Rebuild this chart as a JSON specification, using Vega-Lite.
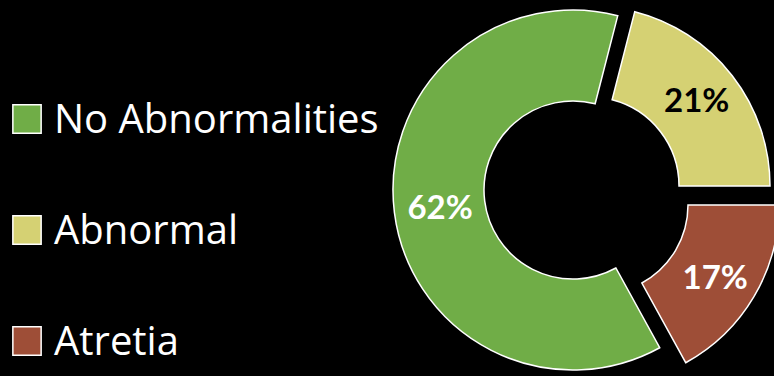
{
  "$schema": "https://vega.github.io/schema/vega-lite/v6.json",
  "autosize": "none",
  "width": 360,
  "height": 360,
  "padding": {"left": 393, "top": 10, "right": 21, "bottom": 6},
  "background": "#000000",
  "config": {"view": {"stroke": null}, "font": "Lato"},
  "data": {"values": [
    {"category": "Abnormal", "value": 21, "label": "21%"},
    {"category": "Atretia", "value": 17, "label": "17%"},
    {"category": "No Abnormalities", "value": 62, "label": "62%"}
  ]},
  "transform": [
    {"stack": "value", "groupby": [], "sort": [{"field": "category", "order": "ascending"}], "as": ["v0", "v1"]},
    {"calculate": "(datum.v0 + datum.v1) / 2", "as": "vmid"}
  ],
  "encoding": {
    "color": {
      "field": "category", "type": "nominal",
      "scale": {"domain": ["No Abnormalities", "Abnormal", "Atretia"], "range": ["#70AD47", "#D5D173", "#9E4E37"]},
      "legend": {
        "orient": "none", "legendX": -386, "legendY": 89, "title": null,
        "symbolType": "square", "symbolSize": 800, "symbolStrokeColor": "white", "symbolStrokeWidth": 1.5, "symbolOpacity": 1,
        "labelColor": "white", "labelFontSize": 40, "labelFont": "Open Sans", "rowPadding": 69, "labelOffset": 7, "labelLimit": 600,
        "encode": {"labels": {"update": {"dy": {"value": 2}}}}
      }
    }
  },
  "layer": [
    {
      "transform": [{"filter": "datum.category === 'No Abnormalities'"}],
      "mark": {"type": "arc", "radius": 180, "radius2": 89, "stroke": "white", "strokeWidth": 1.5},
      "encoding": {
        "theta": {"field": "v0", "type": "quantitative", "stack": null, "scale": {"domain": [0, 100], "range": [0.2513, 6.5345]}},
        "theta2": {"field": "v1"}
      }
    },
    {
      "transform": [{"filter": "datum.category === 'Abnormal'"}],
      "mark": {"type": "arc", "radius": 180, "radius2": 89, "stroke": "white", "strokeWidth": 1.5, "xOffset": 17, "yOffset": -4},
      "encoding": {
        "theta": {"field": "v0", "type": "quantitative", "stack": null, "scale": {"domain": [0, 100], "range": [0.2513, 6.5345]}},
        "theta2": {"field": "v1"}
      }
    },
    {
      "transform": [{"filter": "datum.category === 'Atretia'"}],
      "mark": {"type": "arc", "radius": 180, "radius2": 89, "stroke": "white", "strokeWidth": 1.5, "xOffset": 26, "yOffset": 15},
      "encoding": {
        "theta": {"field": "v0", "type": "quantitative", "stack": null, "scale": {"domain": [0, 100], "range": [0.2513, 6.5345]}},
        "theta2": {"field": "v1"}
      }
    },
    {
      "transform": [{"filter": "datum.category === 'No Abnormalities'"}],
      "mark": {"type": "text", "radius": 134, "fontSize": 33, "fontWeight": "bold", "color": "white", "align": "center", "baseline": "middle", "yOffset": 2},
      "encoding": {
        "theta": {"field": "vmid", "type": "quantitative", "stack": null, "scale": {"domain": [0, 100], "range": [0.2513, 6.5345]}},
        "text": {"field": "label"},
        "color": {"value": "white"}
      }
    },
    {
      "transform": [{"filter": "datum.category === 'Abnormal'"}],
      "mark": {"type": "text", "radius": 135, "fontSize": 33, "fontWeight": "bold", "color": "black", "align": "center", "baseline": "middle", "xOffset": 17, "yOffset": -5},
      "encoding": {
        "theta": {"field": "vmid", "type": "quantitative", "stack": null, "scale": {"domain": [0, 100], "range": [0.2513, 6.5345]}},
        "text": {"field": "label"},
        "color": {"value": "black"}
      }
    },
    {
      "transform": [{"filter": "datum.category === 'Atretia'"}],
      "mark": {"type": "text", "radius": 135, "fontSize": 33, "fontWeight": "bold", "color": "white", "align": "center", "baseline": "middle", "xOffset": 26, "yOffset": 20},
      "encoding": {
        "theta": {"field": "vmid", "type": "quantitative", "stack": null, "scale": {"domain": [0, 100], "range": [0.2513, 6.5345]}},
        "text": {"field": "label"},
        "color": {"value": "white"}
      }
    }
  ]
}
